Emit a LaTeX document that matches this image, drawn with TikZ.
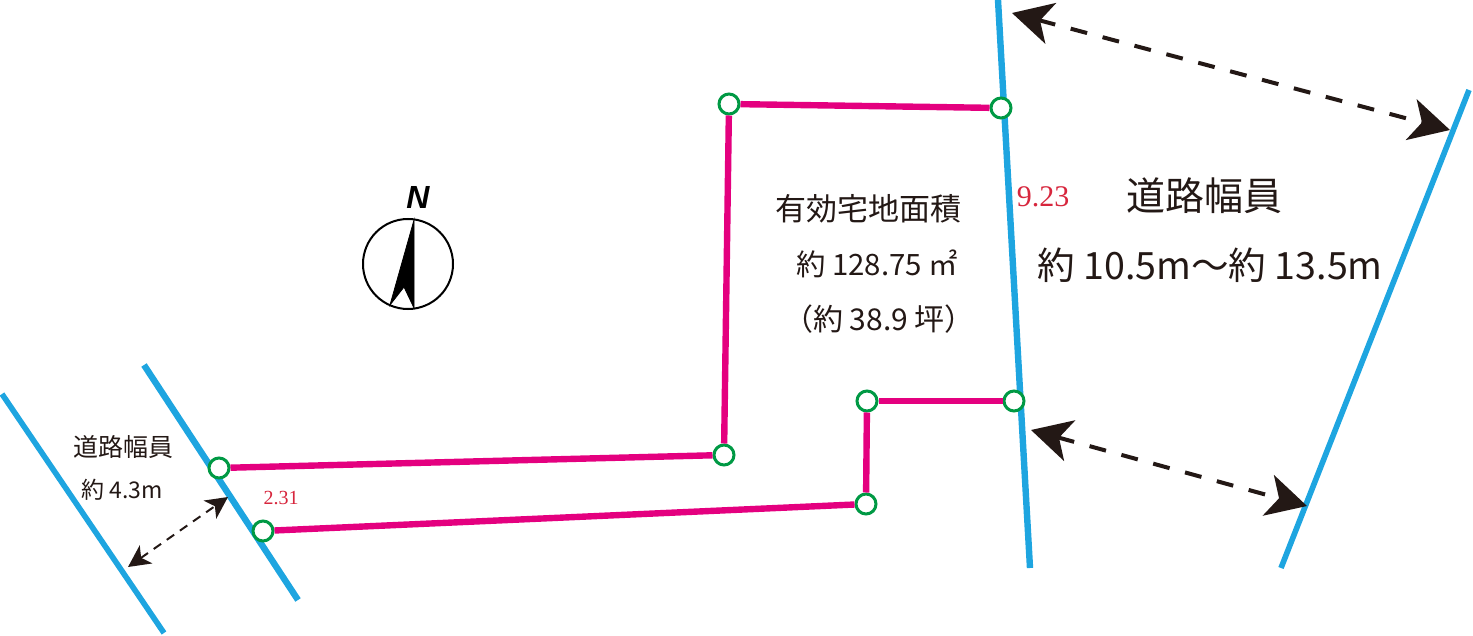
\documentclass[tikz,border=0pt]{standalone}
\usepackage{fontspec}
\setmainfont{Noto Sans CJK JP}
\newfontfamily\serifnum{Liberation Serif}
\newfontfamily\northfont{Liberation Sans}
\usepackage{xcolor}
\usetikzlibrary{arrows.meta}
\definecolor{roadblue}{HTML}{1EA5E0}
\definecolor{lotpink}{HTML}{E4007F}
\definecolor{pegreen}{HTML}{009944}
\definecolor{tipblack}{HTML}{231815}
\definecolor{numred}{HTML}{D7263D}
\tikzset{
	road/.style={draw=roadblue, line width=3.2pt},
	lot/.style={draw=lotpink, line width=3.2pt},
	peg/.style={circle, draw=pegreen, fill=white, line width=1.5pt, minimum size=10pt, inner sep=0pt},
	bigspan/.style={draw=tipblack, line width=2pt, dash pattern=on 8.5pt off 8pt,
			{Stealth[length=20pt, width=21pt, inset=5.5pt]}-{Stealth[length=20pt, width=21pt, inset=5.5pt]}},
	smallspan/.style={draw=tipblack, line width=1pt, dash pattern=on 4.5pt off 3.5pt,
			{Stealth[length=11pt, width=11pt, inset=3pt]}-{Stealth[length=11pt, width=11pt, inset=3pt]}},
	label/.style={text=tipblack, inner sep=0pt, font=\fontsize{#1}{#1}\selectfont}
}

\begin{document}
\begin{tikzpicture}[x=0.5pt, y=-0.5pt]
        \useasboundingbox (0, 0) rectangle (1473, 636);
        % roads
        \coordinate (main_top) at (998, 0);
        \coordinate (main_bot) at (1030, 568);
        \coordinate (far_top) at (1469, 90);
        \coordinate (far_bot) at (1281, 568);
        \coordinate (side_top) at (144, 365);
        \coordinate (side_bot) at (298, 600);
        \coordinate (back_top) at (2, 394);
        \coordinate (back_bot) at (164, 633);
        \draw[road] (main_top) -- (main_bot);
        \draw[road, line width=2.8pt] (far_top) -- (far_bot);
        \draw[road] (side_top) -- (side_bot);
        \draw[road, line width=2.8pt] (back_top) -- (back_bot);
        % lot
        \node[peg] (peg_a) at (729, 104) {};
        \node[peg] (peg_b) at (1001, 108) {};
        \node[peg] (peg_c) at (1014, 401) {};
        \node[peg] (peg_d) at (867, 401) {};
        \node[peg] (peg_e) at (866, 504) {};
        \node[peg] (peg_f) at (263, 531) {};
        \node[peg] (peg_g) at (219, 468) {};
        \node[peg] (peg_h) at (724, 455) {};
        \draw[lot] (peg_a) -- (peg_b);
        \draw[lot] (peg_c) -- (peg_d);
        \draw[lot] (peg_d) -- (peg_e);
        \draw[lot] (peg_e) -- (peg_f);
        \draw[lot] (peg_g) -- (peg_h);
        \draw[lot] (peg_h) -- (peg_a);
        % widths
        \coordinate (upper_l) at (1012, 13);
        \coordinate (upper_r) at (1450, 130);
        \coordinate (lower_l) at (1031, 430);
        \coordinate (lower_r) at (1307, 506);
        \coordinate (small_l) at (128, 567);
        \coordinate (small_r) at (228, 497);
        \draw[bigspan] (upper_l) -- (upper_r);
        \draw[bigspan] (lower_l) -- (lower_r);
        \draw[smallspan] (small_l) -- (small_r);
        % compass
        \node[circle, draw=black, line width=1pt, minimum size=45pt, inner sep=0pt] (compass) at (408, 264) {};
        \filldraw[black] (414, 220) -- (390, 305) -- (404, 287) -- (414, 308) -- cycle;
        \node[font=\northfont\bfseries\itshape\fontsize{16}{16}\selectfont, inner sep=0pt] (north) at (418, 197) {N};
        % texts
        \node[label=15.5] (area_title) at (868, 209) {有効宅地面積};
        \node[label=14.7] (area_m) at (877, 264) {約 128.75 ㎡};
        \node[label=15] (area_t) at (879, 319) {（約 38.9 坪）};
        \node[label=19.5] (wide_title) at (1204, 196) {道路幅員};
        \node[label=18.8] (wide_val) at (1210, 265) {約 10.5m～約 13.5m};
        \node[label=12.5] (side_title) at (123, 447) {道路幅員};
        \node[label=11.5] (side_val) at (122, 490) {約 4.3m};
        \node[text=numred, inner sep=0pt, font=\serifnum\fontsize{15}{15}\selectfont] (len_main) at (1043, 197) {9.23};
        \node[text=numred, inner sep=0pt, font=\serifnum\fontsize{10}{10}\selectfont] (len_side) at (281, 498) {2.31};
    \end{tikzpicture}
\end{document}
